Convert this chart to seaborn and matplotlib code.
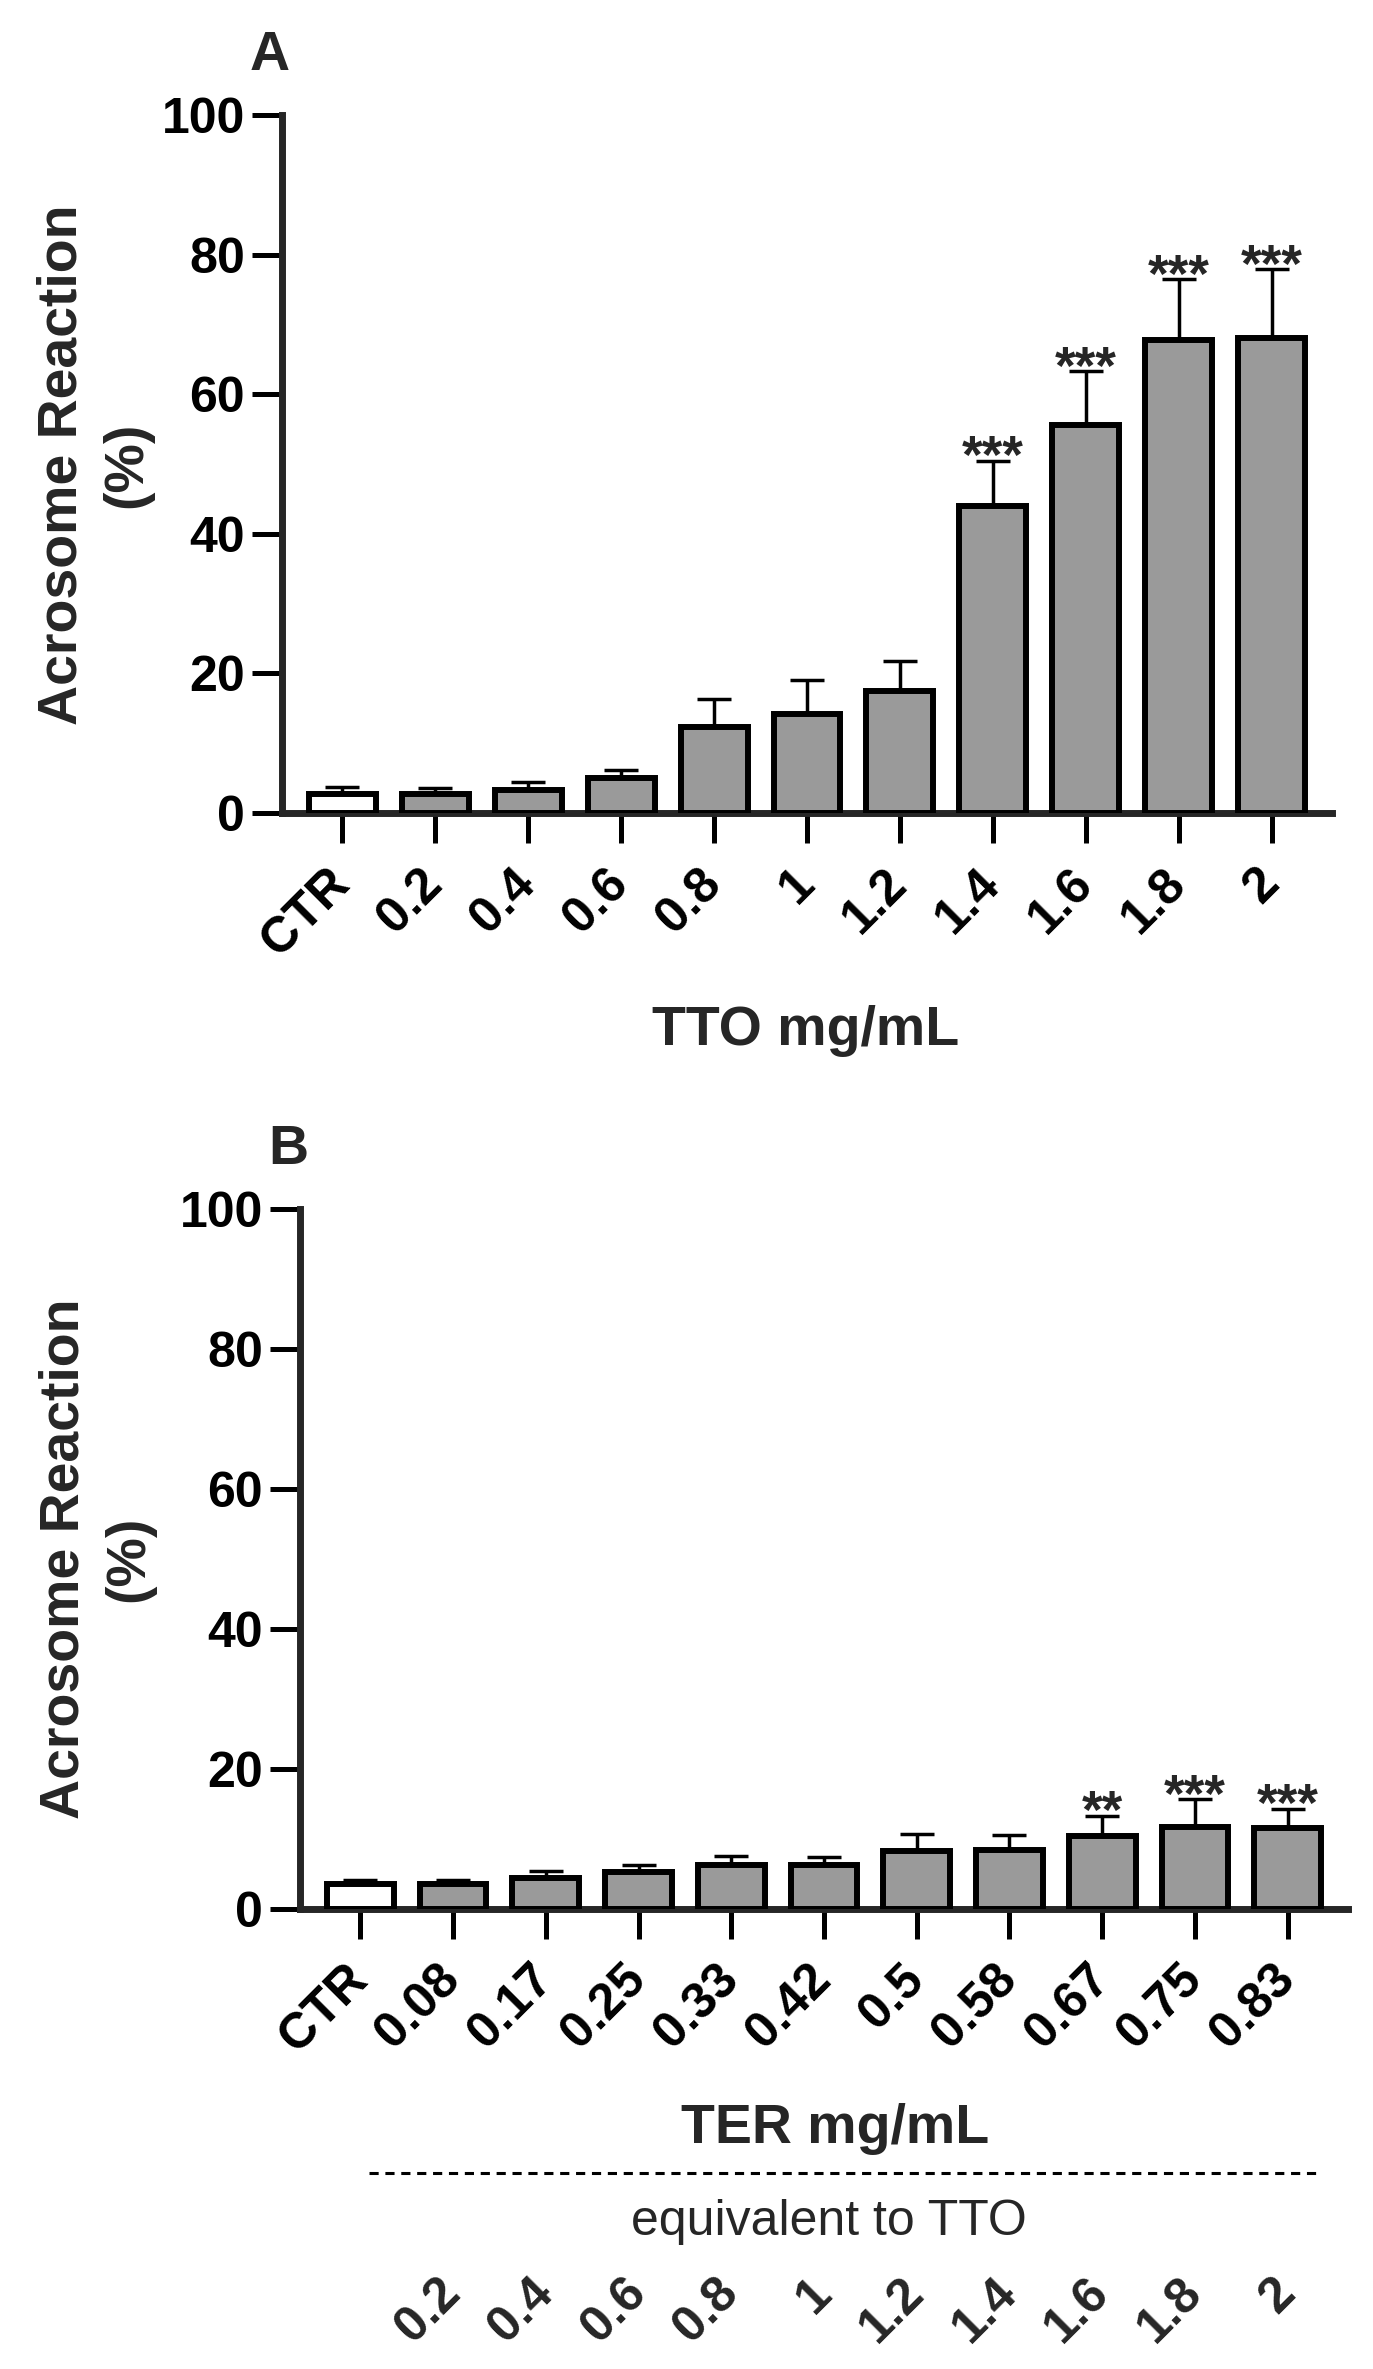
import matplotlib
matplotlib.use("Agg")
import matplotlib.pyplot as plt
from matplotlib.lines import Line2D
from matplotlib.transforms import blended_transform_factory
import seaborn as sns
import pandas as pd

# ------------------------------------------------------------
# Data
# ------------------------------------------------------------
tto_labels = ["CTR", "0.2", "0.4", "0.6", "0.8", "1", "1.2", "1.4", "1.6", "1.8", "2"]
tto_mean = [2.7, 2.7, 3.3, 5.0, 12.3, 14.2, 17.5, 44.0, 55.6, 67.8, 68.1]
tto_sem = [1.0, 0.9, 1.2, 1.2, 4.0, 4.8, 4.3, 6.5, 7.7, 8.7, 9.8]
tto_sig = ["", "", "", "", "", "", "", "***", "***", "***", "***"]

ter_labels = ["CTR", "0.08", "0.17", "0.25", "0.33", "0.42", "0.5", "0.58", "0.67", "0.75", "0.83"]
ter_mean = [3.6, 3.6, 4.4, 5.3, 6.3, 6.3, 8.3, 8.4, 10.4, 11.7, 11.6]
ter_sem = [0.5, 0.5, 1.0, 1.0, 1.3, 1.1, 2.4, 2.2, 2.9, 4.0, 2.7]
ter_sig = ["", "", "", "", "", "", "", "", "**", "***", "***"]

tto_equiv = ["0.2", "0.4", "0.6", "0.8", "1", "1.2", "1.4", "1.6", "1.8", "2"]

W, H = 1373, 2369
GREY = "#9a9a9a"

sns.set_style("ticks")
plt.rcParams["font.family"] = ["Liberation Sans", "DejaVu Sans"]


def px(x, y):
    """pixel position (from top-left) -> figure fraction"""
    return x / W, 1 - y / H


def box(left, top, right, bottom):
    return [left / W, 1 - bottom / H, (right - left) / W, (bottom - top) / H]


def draw_panel(ax, labels, mean, sem, sig):
    df = pd.DataFrame({"dose": labels, "value": mean})
    colors = ["white"] + [GREY] * (len(labels) - 1)
    sns.barplot(data=df, x="dose", y="value", hue="dose", palette=colors,
                legend=False, width=0.72, edgecolor="black", linewidth=4.3,
                saturation=1, errorbar=None, ax=ax, zorder=3)
    # upper error bars only (lower half hidden behind the bar)
    ax.errorbar(range(len(labels)), mean, yerr=[[0] * len(sem), sem],
                fmt="none", ecolor="black", elinewidth=2.5, capsize=12,
                capthick=2.5, zorder=2)
    for i, (m, s, t) in enumerate(zip(mean, sem, sig)):
        if t:
            ax.annotate(t, (i, m + s), xytext=(0, -9), textcoords="offset points",
                        ha="center", va="baseline", fontsize=38, fontweight="bold")

    ax.set_xlim(-0.65, 10.65)
    ax.set_ylim(0, 100)
    ax.set_yticks(range(0, 101, 20))
    ax.set_xlabel("")
    ax.set_ylabel("")
    ax.spines[["top", "right"]].set_visible(False)
    for s in ["left", "bottom"]:
        ax.spines[s].set_linewidth(5)
    ax.tick_params(axis="both", length=21.6, width=3.6, labelsize=36, colors="black")
    ax.tick_params(axis="x", pad=24)
    ax.tick_params(axis="y", pad=5)
    ax.set_xticks(range(len(labels)))
    ax.set_xticklabels(labels, rotation=45, ha="right", va="center",
                       rotation_mode="anchor", fontweight="bold")
    for lbl in ax.get_yticklabels():
        lbl.set_fontweight("bold")


fig = plt.figure(figsize=(W / 100, H / 100), dpi=100)

# ---------------- Panel A ----------------
ax_a = fig.add_axes(box(282, 115, 1332, 813))
draw_panel(ax_a, tto_labels, tto_mean, tto_sem, tto_sig)
fig.text(*px(270, 70), "A", ha="center", va="baseline", fontsize=40, fontweight="bold")
fig.text(*px(95, 465), "Acrosome Reaction\n(%)", rotation=90, ha="center", va="center",
         multialignment="center", linespacing=1.3, fontsize=40, fontweight="bold")
fig.text(*px(806, 1045), "TTO mg/mL", ha="center", va="baseline", fontsize=40, fontweight="bold")

# ---------------- Panel B ----------------
ax_b = fig.add_axes(box(300, 1209, 1348, 1909))
draw_panel(ax_b, ter_labels, ter_mean, ter_sem, ter_sig)
fig.text(*px(288, 1164), "B", ha="center", va="baseline", fontsize=40, fontweight="bold")
fig.text(*px(97, 1559), "Acrosome Reaction\n(%)", rotation=90, ha="center", va="center",
         multialignment="center", linespacing=1.3, fontsize=40, fontweight="bold")
fig.text(*px(835, 2143), "TER mg/mL", ha="center", va="baseline", fontsize=40, fontweight="bold")

# dashed separator + equivalent TTO doses
x0, y0 = px(369, 2173)
x1, _ = px(1317, 2173)
fig.add_artist(Line2D([x0, x1], [y0, y0], transform=fig.transFigure, color="black",
                      linewidth=2.2, linestyle=(0, (3, 2.2))))
fig.text(*px(829, 2235), "equivalent to TTO", ha="center", va="baseline", fontsize=36)

trans = blended_transform_factory(ax_b.transData, ax_b.transAxes)
eq_y = -(2286 - 1909) / 700
for i, lab in enumerate(tto_equiv, start=1):
    ax_b.text(i, eq_y, lab, transform=trans, rotation=45, ha="right", va="center",
              rotation_mode="anchor", fontsize=36, fontweight="bold", clip_on=False)

fig.savefig("out.png", dpi=100, facecolor="white")
